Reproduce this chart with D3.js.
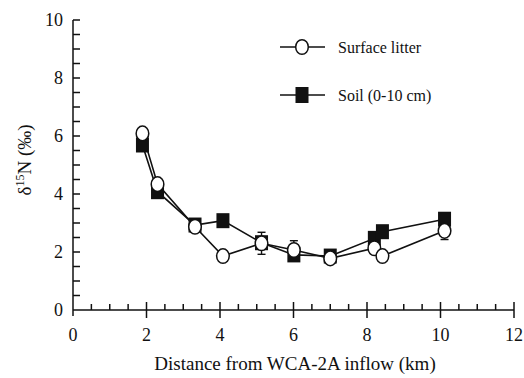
<!DOCTYPE html>
<html lang="en">
<head>
<meta charset="UTF-8">
<title>d15N vs distance</title>
<script src="https://cdn.jsdelivr.net/npm/d3@7"></script>
</head>
<body style="margin:0">
<div id="chart"></div>
<script>
    // data
    const distance = [1.89, 2.3, 3.32, 4.08, 5.13, 6.01, 7.0, 8.2, 8.42, 10.11];
    const litter = [6.09, 4.34, 2.87, 1.86, 2.3, 2.07, 1.78, 2.13, 1.86, 2.73];
    const litterErr = [0.1, 0.1, 0.1, 0.1, 0.38, 0.32, 0.1, 0.1, 0.1, 0.3];
    const soil = [5.69, 4.08, 2.93, 3.08, 2.32, 1.9, 1.86, 2.47, 2.7, 3.13];
    const xTicks = [0, 2, 4, 6, 8, 10, 12];
    const yTicks = [0, 2, 4, 6, 8, 10];

    const width = 524, height = 378;
    const x = d3.scaleLinear().domain([0, 12]).range([73, 514]);
    const y = d3.scaleLinear().domain([0, 10]).range([310, 20]);

    const svg = d3.select('#chart').append('svg')
        .attr('width', width).attr('height', height);

    // axes: minor ticks inside, major x ticks cross the axis
    const ax = svg.append('g').attr('stroke', '#111').attr('stroke-width', 1.5);
    ax.append('line').attr('x1', x(0)).attr('x2', x(12)).attr('y1', y(0)).attr('y2', y(0));
    ax.append('line').attr('x1', x(0)).attr('x2', x(0)).attr('y1', y(0)).attr('y2', y(10));

    const xMinor = d3.range(0.5, 12.01, 0.5).filter(v => v % 2 !== 0);
    ax.selectAll('.xm').data(xMinor).join('line')
        .attr('x1', d => x(d)).attr('x2', d => x(d))
        .attr('y1', y(0)).attr('y2', y(0) - 6);
    ax.selectAll('.xM').data(xTicks.slice(1)).join('line')
        .attr('x1', d => x(d)).attr('x2', d => x(d))
        .attr('y1', y(0) - 8).attr('y2', y(0) + 8);
    ax.append('line').attr('x1', x(0)).attr('x2', x(0)).attr('y1', y(0)).attr('y2', y(0) + 6);

    ax.selectAll('.ym').data(d3.range(0.5, 10.01, 0.5)).join('line')
        .attr('x1', x(0)).attr('x2', x(0) + 7)
        .attr('y1', d => y(d)).attr('y2', d => y(d));

    const labels = svg.append('g').attr('fill', '#111');

    labels.selectAll('.xl').data(xTicks).join('text')
        .attr('x', d => x(d)).attr('y', y(0) + 31)
        .attr('text-anchor', 'middle').attr('font-size', 18)
        .attr('font-family', 'Times New Roman').text(d => d);
    labels.selectAll('.yl').data(yTicks).join('text')
        .attr('x', x(0) - 10).attr('y', d => y(d) + 6)
        .attr('text-anchor', 'end').attr('font-size', 18)
        .attr('font-family', 'Times New Roman').text(d => d);

    labels.append('text').attr('x', 295).attr('y', 370)
        .attr('text-anchor', 'middle').attr('font-size', 19)
        .attr('font-family', 'Times New Roman')
        .text('Distance from WCA-2A inflow (km)');

    const yl = labels.append('text')
        .attr('transform', 'translate(31,' + 160 + ') rotate(-90)')
        .attr('text-anchor', 'middle').attr('font-size', 19)
        .attr('font-family', 'Times New Roman');
    yl.append('tspan').text('δ');
    yl.append('tspan').attr('font-size', 12).attr('dy', -7).text('15');
    yl.append('tspan').attr('dy', 7).text('N (‰)');

    const line = d3.line().x(d => x(d[0])).y(d => y(d[1]));
    const soilPts = distance.map((d, i) => [d, soil[i]]);
    const litPts = distance.map((d, i) => [d, litter[i], litterErr[i]]);

    const plot = svg.append('g');
    plot.append('path').datum(soilPts).attr('d', line)
        .attr('fill', 'none').attr('stroke', '#111').attr('stroke-width', 1.6);
    plot.append('path').datum(litPts).attr('d', line)
        .attr('fill', 'none').attr('stroke', '#111').attr('stroke-width', 1.6);

    // error bars for surface litter
    const eb = plot.append('g').attr('stroke', '#111').attr('stroke-width', 1.4);
    eb.selectAll('.eb').data(litPts).join('line')
        .attr('x1', d => x(d[0])).attr('x2', d => x(d[0]))
        .attr('y1', d => y(d[1] - d[2])).attr('y2', d => y(d[1] + d[2]));
    eb.selectAll('.cap').data(litPts.flatMap(d => [[d[0], d[1] - d[2]], [d[0], d[1] + d[2]]])).join('line')
        .attr('x1', d => x(d[0]) - 4).attr('x2', d => x(d[0]) + 4)
        .attr('y1', d => y(d[1])).attr('y2', d => y(d[1]));

    plot.selectAll('.sq').data(soilPts).join('rect')
        .attr('x', d => x(d[0]) - 6.5).attr('y', d => y(d[1]) - 7.5)
        .attr('width', 13).attr('height', 15).attr('fill', '#111');
    plot.selectAll('.ci').data(litPts).join('ellipse')
        .attr('cx', d => x(d[0])).attr('cy', d => y(d[1]))
        .attr('rx', 6.3).attr('ry', 7.3)
        .attr('fill', '#fff').attr('stroke', '#111').attr('stroke-width', 1.5);

    // legend
    const leg = svg.append('g');
    const legItems = [['Surface litter', 47], ['Soil (0-10 cm)', 95]];
    legItems.forEach(([label, ly], i) => {
        leg.append('line').attr('x1', 280).attr('x2', 325).attr('y1', ly).attr('y2', ly)
            .attr('stroke', '#111').attr('stroke-width', 1.5);
        if (i === 0) {
            leg.append('ellipse').attr('cx', 302).attr('cy', ly).attr('rx', 6.3).attr('ry', 7.3)
                .attr('fill', '#fff').attr('stroke', '#111').attr('stroke-width', 1.5);
        } else {
            leg.append('rect').attr('x', 295.5).attr('y', ly - 8).attr('width', 13).attr('height', 16)
                .attr('fill', '#111');
        }
        leg.append('text').attr('x', 338).attr('y', ly + 6).attr('font-size', 16)
            .attr('font-family', 'Times New Roman').attr('fill', '#111').text(label);
    });
</script>
</body>
</html>
